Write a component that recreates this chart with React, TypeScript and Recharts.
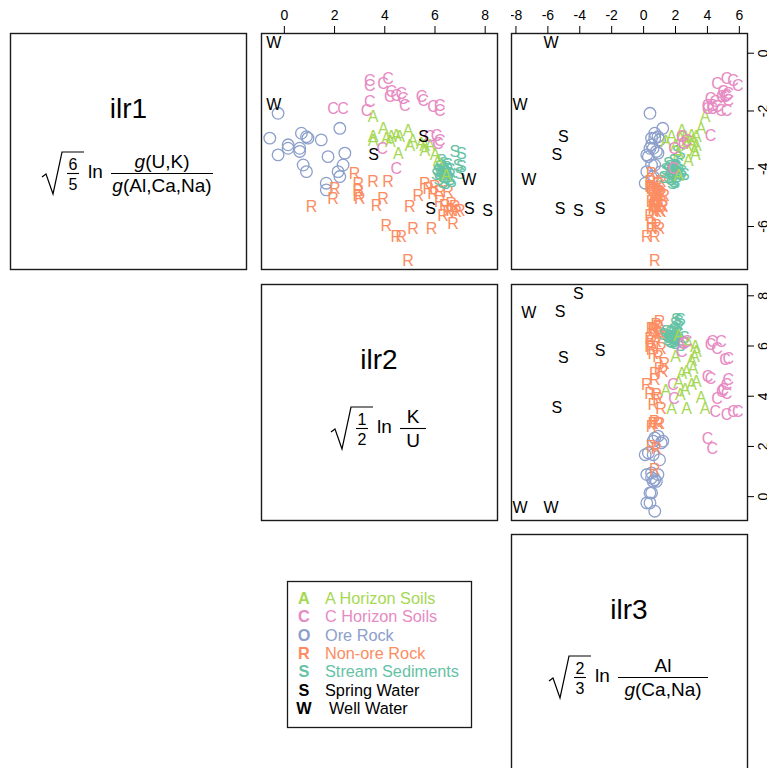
import React from 'react';
import { ScatterChart, Scatter, XAxis, YAxis } from 'recharts';

const FONT = '"Liberation Sans", Arial, Helvetica, sans-serif';

// isometric log-ratio coordinates, one array per sample group and variable
const aSoilIlr1 = [-2.19, -2.89, -3.0, -2.6, -2.94, -3.04, -2.89, -2.83, -2.89, -3.46, -2.65, -3.17, -3.0, -3.17, -3.7, -4.21, -3.2, -3.35, -3.1, -3.5];
const aSoilIlr2 = [3.53, 3.53, 3.53, 3.94, 4.06, 4.22, 4.26, 4.46, 4.59, 4.54, 4.93, 5.0, 5.12, 5.59, 6.12, 6.44, 5.8, 5.6, 5.45, 6.0];
const aSoilIlr3 = [3.85, 1.75, 2.7, 3.6, 2.3, 1.4, 2.6, 3.0, 3.3, 2.2, 2.4, 2.7, 3.1, 2.0, 2.8, 2.2, 3.3, 3.2, 3.0, 3.25];

const cSoilIlr1 = [-0.92, -1.1, -1.04, -0.87, -1.33, -1.5, -1.44, -1.38, -1.56, -1.79, -1.67, -1.96, -1.9, -1.9, -1.5, -1.62, -1.85, -1.79, -1.96, -2.89, -2.83, -3.0, -3.29, -3.98, -3.11];
const cSoilIlr2 = [3.4, 3.4, 3.93, 4.13, 4.26, 4.2, 4.46, 4.66, 4.73, 4.8, 3.4, 3.27, 1.94, 2.34, 5.46, 5.53, 5.92, 6.19, 6.19, 5.79, 6.06, 6.19, 3.9, 4.46, 6.12];
const cSoilIlr3 = [5.6, 5.9, 4.6, 5.2, 5.0, 4.9, 5.2, 5.3, 4.2, 4.0, 4.5, 5.2, 4.3, 4.0, 5.1, 5.3, 4.6, 4.3, 4.85, 2.4, 4.2, 2.7, 1.9, 1.85, 2.5];

const oreIlr1 = [-2.08, -2.94, -2.6, -3.17, -2.77, -2.89, -2.94, -3.0, -3.52, -3.29, -3.29, -3.4, -3.58, -3.46, -3.87, -4.1, -4.1, -3.87, -4.5, -4.73, -4.27];
const oreIlr2 = [-0.25, -0.58, 2.21, 0.15, 0.68, 0.88, 0.94, 1.47, -0.25, 0.15, 0.61, 0.61, 1.74, 2.41, 0.75, 0.88, 2.14, 2.34, 1.67, 1.67, 2.21];
const oreIlr3 = [0.4, 0.7, 1.2, 0.5, 0.7, 0.9, 0.5, 1.0, 0.2, 0.4, 0.6, 0.8, 0.3, 0.9, 0.5, 0.2, 1.1, 0.7, 0.1, 0.6, 0.6];

const rockIlr1 = [-5.31, -4.67, -5.02, -4.15, -4.5, -4.73, -4.9, -5.02, -4.44, -4.44, -5.02, -5.25, -5.31, -5.94, -6.35, -6.35, -6.06, -6.06, -7.15, -4.9, -4.5, -4.67, -4.84, -4.62, -4.79, -4.79, -5.14, -5.25, -5.19, -5.31, -5.6, -5.48, -5.42, -5.48, -5.42, -5.88];
const rockIlr2 = [1.08, 2.01, 1.94, 2.8, 2.94, 2.94, 2.94, 3.0, 3.53, 4.13, 3.93, 3.67, 5.0, 4.06, 4.46, 4.66, 5.13, 5.86, 4.93, 5.33, 5.59, 5.73, 5.92, 5.99, 6.19, 6.52, 6.19, 6.39, 6.65, 6.79, 6.32, 6.52, 6.65, 6.85, 6.99, 6.72];
const rockIlr3 = [0.7, 0.5, 0.8, 0.5, 0.9, 0.6, 1.0, 0.7, 1.1, 0.4, 0.9, 0.6, 1.2, 0.8, 0.2, 0.7, 1.0, 0.5, 0.7, 1.3, 0.9, 0.6, 1.1, 0.4, 0.8, 1.0, 0.5, 1.2, 0.7, 0.9, 0.4, 1.1, 0.6, 0.8, 1.0, 0.5];

const sedIlr1 = [-3.4, -3.46, -3.87, -3.92, -4.15, -4.44, -4.0, -4.1, -4.2, -4.3, -3.95, -4.05, -4.25, -4.35, -4.15, -3.9, -4.45, -4.0, -4.2, -3.8, -4.1, -4.3, -3.85, -4.5, -4.05, -4.35, -3.7, -4.2];
const sedIlr2 = [6.79, 7.05, 6.92, 7.05, 6.99, 6.65, 6.3, 6.4, 6.2, 6.35, 6.45, 6.25, 6.5, 6.15, 6.55, 6.2, 6.3, 6.6, 6.05, 6.35, 6.15, 6.45, 6.5, 6.4, 6.1, 6.6, 6.25, 6.35];
const sedIlr3 = [2.1, 2.3, 1.97, 2.05, 2.2, 1.9, 1.8, 1.7, 1.9, 1.6, 2.0, 1.5, 2.1, 1.75, 1.85, 1.65, 1.95, 1.4, 2.3, 1.55, 2.4, 1.25, 2.2, 1.8, 1.95, 1.7, 1.9, 2.55];

const springIlr1 = [-2.89, -3.48, -5.36, -5.42, -5.36];
const springIlr2 = [5.55, 3.55, 7.37, 8.1, 5.82];
const springIlr3 = [-5.03, -5.44, -5.23, -4.09, -2.73];

const wellIlr1 = [0.39, -1.75, -4.35];
const wellIlr2 = [-0.42, -0.42, 7.35];
const wellIlr3 = [-5.8, -7.75, -7.2];

const ilr1Ticks = [0, -2, -4, -6];
const ilr2Ticks = [0, 2, 4, 6, 8];
const ilr3Ticks = [-8, -6, -4, -2, 0, 2, 4, 6];

const ILR1_DOMAIN: [number, number] = [-7.47, 0.7];
const ILR2_DOMAIN: [number, number] = [-0.93, 8.47];
const ILR3_DOMAIN: [number, number] = [-8.31, 6.48];

type Group = {
  letter: string;
  label: string;
  color: string;
  circle?: boolean;
  ilr1: number[];
  ilr2: number[];
  ilr3: number[];
};

const aSoil: Group = { letter: 'A', label: 'A Horizon Soils', color: '#A6D854', ilr1: aSoilIlr1, ilr2: aSoilIlr2, ilr3: aSoilIlr3 };
const cSoil: Group = { letter: 'C', label: 'C Horizon Soils', color: '#E78AC3', ilr1: cSoilIlr1, ilr2: cSoilIlr2, ilr3: cSoilIlr3 };
const ore: Group = { letter: 'O', label: 'Ore Rock', color: '#8DA0CB', circle: true, ilr1: oreIlr1, ilr2: oreIlr2, ilr3: oreIlr3 };
const rock: Group = { letter: 'R', label: 'Non-ore Rock', color: '#FC8D62', ilr1: rockIlr1, ilr2: rockIlr2, ilr3: rockIlr3 };
const sediment: Group = { letter: 'S', label: 'Stream Sediments', color: '#66C2A5', ilr1: sedIlr1, ilr2: sedIlr2, ilr3: sedIlr3 };
const spring: Group = { letter: 'S', label: 'Spring Water', color: '#000000', ilr1: springIlr1, ilr2: springIlr2, ilr3: springIlr3 };
const well: Group = { letter: 'W', label: 'Well Water', color: '#000000', ilr1: wellIlr1, ilr2: wellIlr2, ilr3: wellIlr3 };

const legendOrder = [aSoil, cSoil, ore, rock, sediment, spring, well];
const drawOrder = [ore, rock, sediment, aSoil, cSoil, spring, well];

const BOX = 236;
const COL_LEFT = [10, 261, 511];
const ROW_TOP = [33, 284, 534];

const markShape = (g: Group) => (p: any) => {
  if (g.circle) {
    return <circle cx={p.cx} cy={p.cy} r={5.8} fill="none" stroke={g.color} strokeWidth={1.3} />;
  }
  return (
    <text x={p.cx} y={p.cy} dy="0.36em" textAnchor="middle" fontSize={16} fontFamily={FONT} fill={g.color}>
      {g.letter}
    </text>
  );
};

const TopTick = (p: any) => (
  <text x={p.x} y={20} textAnchor="middle" fontSize={14} fontFamily={FONT} fill="#000">
    {p.payload.value}
  </text>
);

// right-hand labels read bottom to top, glyph tops facing the panel
const RightTick = (p: any) => {
  const bx = BOX + 21;
  return (
    <text x={bx} y={p.y} transform={`rotate(-90 ${bx} ${p.y})`} textAnchor="middle" fontSize={14} fontFamily={FONT} fill="#000">
      {p.payload.value}
    </text>
  );
};

type Var = 'ilr1' | 'ilr2' | 'ilr3';

function PairPanel({ row, col, xVar, yVar, xDomain, yDomain, xTicks, yTicks }: {
  row: number; col: number; xVar: Var; yVar: Var;
  xDomain: [number, number]; yDomain: [number, number];
  xTicks?: number[]; yTicks?: number[];
}) {
  const axisH = xTicks ? 33 : 0;
  const axisW = yTicks ? 20 : 0;
  return (
    <div style={{ position: 'absolute', left: COL_LEFT[col], top: ROW_TOP[row] - axisH }}>
      <ScatterChart width={BOX + axisW} height={BOX + axisH} margin={{ top: 0, right: 0, bottom: 0, left: 0 }}>
        <XAxis
          type="number" dataKey="x" domain={xDomain} allowDataOverflow orientation="top"
          height={axisH} hide={!xTicks} ticks={xTicks} interval={0} tickSize={7}
          axisLine={false} tickLine={{ stroke: '#000', strokeWidth: 1 }} tick={TopTick}
        />
        <YAxis
          type="number" dataKey="y" domain={yDomain} allowDataOverflow orientation="right"
          width={axisW} hide={!yTicks} ticks={yTicks} interval={0} tickSize={7}
          axisLine={false} tickLine={{ stroke: '#000', strokeWidth: 1 }} tick={RightTick}
        />
        {drawOrder.map((g) => (
          <Scatter
            key={g.label}
            data={g[xVar].map((v, i) => ({ x: v, y: g[yVar][i] }))}
            shape={markShape(g)}
            isAnimationActive={false}
          />
        ))}
      </ScatterChart>
    </div>
  );
}

function Formula({ sx, fy, rn, rd, num, den, bar }: {
  sx: number; fy: number; rn: string; rd: string; num: React.ReactNode; den: React.ReactNode; bar: number;
}) {
  const top = fy - 21;
  const fx = sx + 69;
  return (
    <g fontFamily={FONT} fill="#000">
      <path
        d={`M${sx},${fy + 4} L${sx + 4},${fy + 1} L${sx + 11},${fy + 21} L${sx + 20},${top} L${sx + 42},${top}`}
        stroke="#000" strokeWidth={1.2} fill="none"
      />
      <text x={sx + 31} y={fy - 3} fontSize={16} textAnchor="middle">{rn}</text>
      <line x1={sx + 25} x2={sx + 37} y1={fy + 0.5} y2={fy + 0.5} stroke="#000" strokeWidth={1.1} />
      <text x={sx + 31} y={fy + 17} fontSize={16} textAnchor="middle">{rd}</text>
      <text x={sx + 46} y={fy + 5} fontSize={19}>ln</text>
      <line x1={fx} x2={fx + bar} y1={fy + 0.5} y2={fy + 0.5} stroke="#000" strokeWidth={1.1} />
      <text x={fx + bar / 2} y={fy - 5} fontSize={19} textAnchor="middle">{num}</text>
      <text x={fx + bar / 2} y={fy + 19} fontSize={19} textAnchor="middle">{den}</text>
    </g>
  );
}

const G = () => <tspan fontStyle="italic">g</tspan>;

export default function App() {
  const frames = [[0, 0], [0, 1], [0, 2], [1, 1], [1, 2], [2, 2]];
  return (
    <div style={{ position: 'absolute', left: 0, top: 0, width: 767, height: 768, overflow: 'hidden', background: '#fff' }}>
      <svg width={767} height={768} style={{ position: 'absolute', left: 0, top: 0 }}>
        {frames.map(([r, c]) => (
          <rect key={`${r}-${c}`} x={COL_LEFT[c] + 0.5} y={ROW_TOP[r] + 0.5} width={BOX} height={BOX} fill="none" stroke="#1a1a1a" strokeWidth={1.4} />
        ))}

        <text x={128.5} y={118} fontSize={28} textAnchor="middle" fontFamily={FONT}>ilr1</text>
        <Formula sx={42} fy={173} rn="6" rd="5" num={<><G />(U,K)</>} den={<><G />(Al,Ca,Na)</>} bar={102} />

        <text x={379} y={369} fontSize={28} textAnchor="middle" fontFamily={FONT}>ilr2</text>
        <Formula sx={331} fy={428} rn="1" rd="2" num="K" den="U" bar={26} />

        <text x={629} y={619} fontSize={28} textAnchor="middle" fontFamily={FONT}>ilr3</text>
        <Formula sx={549} fy={677} rn="2" rd="3" num="Al" den={<><G />(Ca,Na)</>} bar={90} />

        <rect x={287.5} y={581.5} width={184} height={146} fill="#fff" stroke="#1a1a1a" strokeWidth={1.3} />
        {legendOrder.map((g, i) => (
          <g key={g.label} fontFamily={FONT} fontSize={16.3}>
            <text x={304} y={604 + i * 18.33} textAnchor="middle" fontWeight="bold" fill={g.color}>{g.letter}</text>
            <text x={g === well ? 329 : 325} y={604 + i * 18.33} fill={g.color}>{g.label}</text>
          </g>
        ))}
      </svg>

      <PairPanel row={0} col={1} xVar="ilr2" yVar="ilr1" xDomain={ILR2_DOMAIN} yDomain={ILR1_DOMAIN} xTicks={ilr2Ticks} />
      <PairPanel row={0} col={2} xVar="ilr3" yVar="ilr1" xDomain={ILR3_DOMAIN} yDomain={ILR1_DOMAIN} xTicks={ilr3Ticks} yTicks={ilr1Ticks} />
      <PairPanel row={1} col={2} xVar="ilr3" yVar="ilr2" xDomain={ILR3_DOMAIN} yDomain={ILR2_DOMAIN} yTicks={ilr2Ticks} />
    </div>
  );
}
